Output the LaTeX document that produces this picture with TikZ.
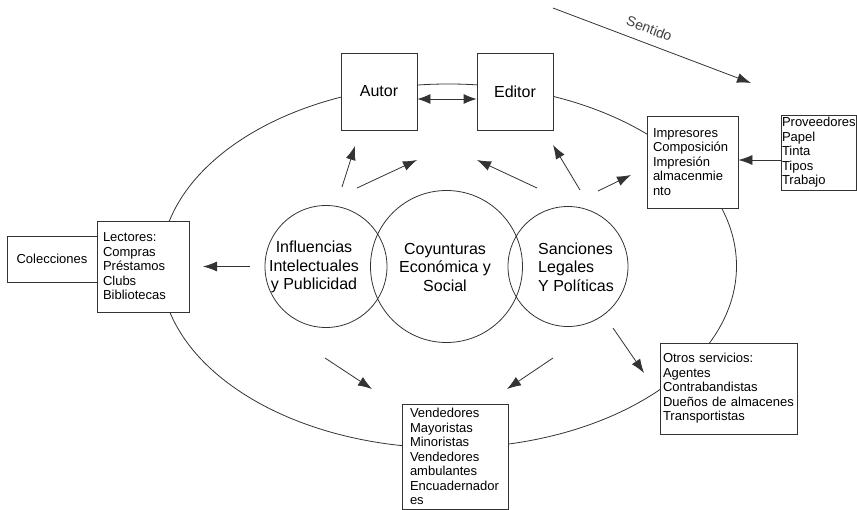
\documentclass[tikz,border=0pt]{standalone}
\usepackage{fontspec}
\setmainfont{Liberation Sans}
\usetikzlibrary{arrows.meta}

\begin{document}
\begin{tikzpicture}[x=1pt, y=-1pt,
    >={Latex[length=14pt, width=10pt]},
    linha/.style={draw=black!80, line width=0.8pt},
    caixa/.style={linha, fill=white, inner sep=0pt},
    lista/.style={caixa, align=left, font=\fontsize{13}{14.5}\selectfont},
    bola/.style={linha, circle, inner sep=0pt},
    texto/.style={align=center, font=\fontsize{16}{18.5}\selectfont},
    seta/.style={linha, ->}
    ]
    \useasboundingbox (0,0) rectangle (857,510);

    % o circuito
    \draw [linha] (448.5,266) ellipse [x radius=288, y radius=182];

    \node [caixa,
    minimum width=76,
    minimum height=77,
    font=\fontsize{16}{18.5}\selectfont
    ] (autor) at (379,91.5) {Autor};

    \node [caixa,
    minimum width=76,
    minimum height=77,
    font=\fontsize{16}{18.5}\selectfont
    ] (editor) at (515,91.5) {Editor};

    \node [lista,
    minimum width=91,
    minimum height=92,
    text width=79
    ] (impresores) at (692.5,162) {Impresores\\Composición\\Impresión\\almacenmie\\nto};

    \node [lista,
    minimum width=75,
    minimum height=75,
    text width=73
    ] (proveedores) at (818.5,152.5) {Proveedores\\Papel\\Tinta\\Tipos\\Trabajo};

    \node [lista,
    minimum width=92,
    minimum height=91,
    text width=80
    ] (lectores) at (143,266.5) {Lectores:\\Compras\\Préstamos\\Clubs\\Bibliotecas};

    \node [caixa,
    minimum width=90,
    minimum height=46,
    font=\fontsize{13}{14.5}\selectfont
    ] (colecciones) at (52,259) {Colecciones};

    \node [lista,
    minimum width=106,
    minimum height=105,
    text width=90
    ] (vendedores) at (455,456.5) {Vendedores\\Mayoristas\\Minoristas\\Vendedores\\ambulantes\\Encuadernador\\es};

    \node [lista,
    minimum width=137,
    minimum height=91,
    text width=131
    ] (otros) at (728.5,388.5) {Otros servicios:\\Agentes\\Contrabandistas\\Dueños de almacenes\\Transportistas};

    % las tres influencias
    \node [bola, minimum size=122] (influencias) at (326,266.5) {};
    \node [bola, minimum size=152] (coyunturas) at (446.5,266.5) {};
    \node [bola, minimum size=120] (sanciones) at (568,266.5) {};

    \node [texto] (influencias txt) at (314,267) {Influencias\\Intelectuales\\y Publicidad};
    \node [texto] (coyunturas txt) at (445,267) {Coyunturas\\Económica y\\Social};
    \node [texto, align=left] (sanciones txt) at (576,267) {Sanciones\\Legales\\Y Políticas};

    % puntas de las flechas
    \coordinate (s1) at (342,187); \coordinate (t1) at (355,146);
    \coordinate (s2) at (357,188); \coordinate (t2) at (417,160);
    \coordinate (s3) at (537,188); \coordinate (t3) at (477,160);
    \coordinate (s4) at (580,190); \coordinate (t4) at (553,145);
    \coordinate (s5) at (598,191); \coordinate (t5) at (631,175);
    \coordinate (s6) at (250,266.5); \coordinate (t6) at (203,266.5);
    \coordinate (s7) at (325,358); \coordinate (t7) at (372,389);
    \coordinate (s8) at (553,358); \coordinate (t8) at (507,389);
    \coordinate (s9) at (613,328); \coordinate (t9) at (644,373);
    \coordinate (sentido a) at (553,8); \coordinate (sentido b) at (751,83);

    \draw [seta] (s1) -- (t1);
    \draw [seta] (s2) -- (t2);
    \draw [seta] (s3) -- (t3);
    \draw [seta] (s4) -- (t4);
    \draw [seta] (s5) -- (t5);
    \draw [seta] (s6) -- (t6);
    \draw [seta] (s7) -- (t7);
    \draw [seta] (s8) -- (t8);
    \draw [seta] (s9) -- (t9);

    \draw [seta, <->, >={Latex[length=13pt, width=10pt]}]
        ([yshift=-7.5]autor.east) -- ([yshift=-7.5]editor.west);
    \draw [seta]
        ([yshift=-7.5]proveedores.west) -- ([yshift=-7.5]proveedores.west -| impresores.east);

    \draw [seta] (sentido a) -- (sentido b)
    node [pos=0.46, sloped, above=6pt, text=black!75,
    font=\fontsize{14}{16}\selectfont] {Sentido};
\end{tikzpicture}
\end{document}
